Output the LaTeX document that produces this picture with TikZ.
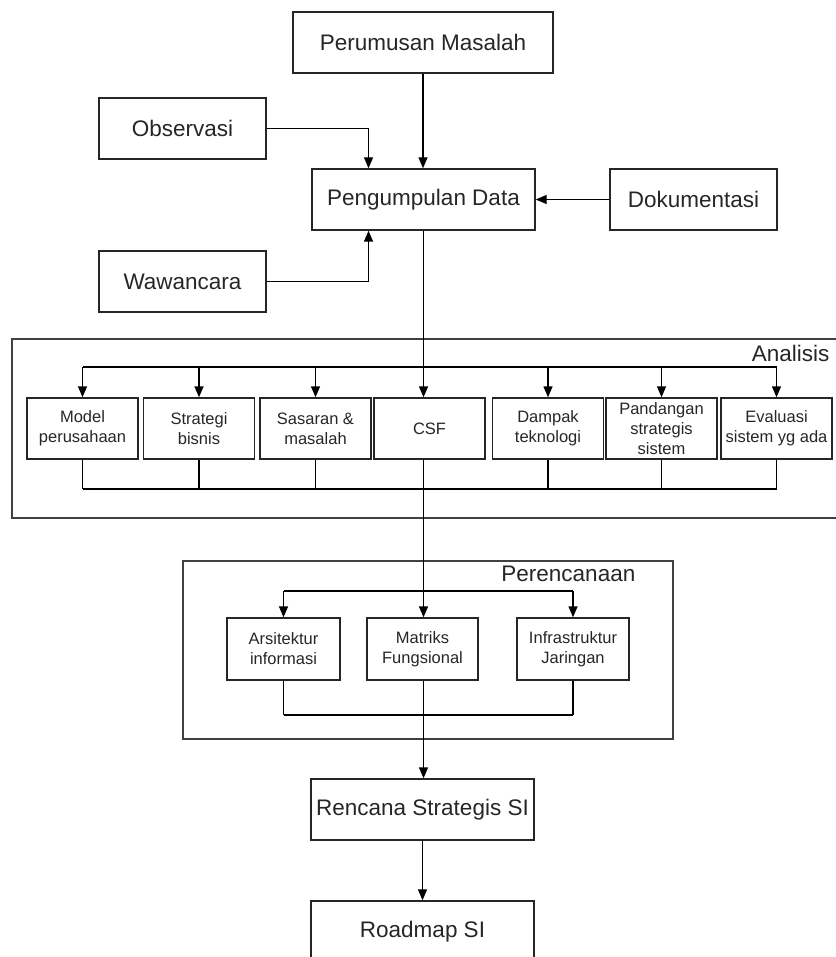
\documentclass[tikz,border=0pt]{standalone}
\usepackage{fontspec}
\setmainfont{Liberation Sans}
\usetikzlibrary{arrows.meta}
\begin{document}
\begin{tikzpicture}[x=1pt,y=-1pt,line width=1.4pt,
  >={Triangle[length=11pt,width=9pt]},
  bigbox/.style={draw=black!85,inner sep=0pt,minimum height=61pt,text=black!85,font=\fontsize{22.5}{27}\selectfont},
  smallbox/.style={draw=black!85,inner sep=0pt,minimum width=111pt,minimum height=61pt,align=center,text=black!85,font=\fontsize{16.5}{20}\selectfont},
  frame/.style={draw=black!75,line width=1.6pt,inner sep=0pt},
  framelabel/.style={inner sep=0pt,anchor=base east,text=black!85,font=\fontsize{22.5}{27}\selectfont}]
\useasboundingbox (0,0) rectangle (835,957);
% input
\node [bigbox,minimum width=260pt] (perumusan) at (423,42.5) {Perumusan Masalah};
\node [bigbox,minimum width=167pt] (observasi) at (182.5,128.5) {Observasi};
\node [bigbox,minimum width=223pt] (pengumpulan) at (423.5,199.5) {Pengumpulan Data};
\node [bigbox,minimum width=167pt] (dokumentasi) at (693.5,199.5) {Dokumentasi};
\node [bigbox,minimum width=167pt] (wawancara) at (182.5,281.5) {Wawancara};
\draw[->] (perumusan.south) -- (perumusan.south |- pengumpulan.north);
\draw[->] (observasi.east) -| ([xshift=-55pt]pengumpulan.north);
\draw[->] (wawancara.east) -| ([xshift=-55pt]pengumpulan.south);
\draw[->] (dokumentasi.west) -- (pengumpulan.east);
% analisis
\node [frame,minimum width=850pt,minimum height=179pt] (analisis) at (437,428.5) {};
\node [framelabel] (analisislbl) at (830,361) {Analisis};
\node [smallbox] (model) at (82.5,428.5) {Model\\perusahaan};
\node [smallbox] (strategi) at (199,428.5) {Strategi\\bisnis};
\node [smallbox] (sasaran) at (315.5,428.5) {Sasaran \&\\masalah};
\node [smallbox] (csf) at (429.5,428.5) {CSF};
\node [smallbox] (dampak) at (548,428.5) {Dampak\\teknologi};
\node [smallbox] (pandangan) at (661.5,428.5) {Pandangan\\strategis\\sistem};
\node [smallbox] (evaluasi) at (776.5,428.5) {Evaluasi\\sistem yg ada};
\coordinate (atop) at (0,367);
\coordinate (abot) at (0,489);
\draw (model.north |- atop) -- (evaluasi.north |- atop);
\draw (model.south |- abot) -- (evaluasi.south |- abot);
\foreach \b in {model,strategi,sasaran,dampak,pandangan,evaluasi} {
  \draw[->] (\b.north |- atop) -- (\b.north);
  \draw (\b.south) -- (\b.south |- abot);
}
\draw[->] (pengumpulan.south) -- (pengumpulan.south |- csf.north);
% perencanaan
\node [frame,minimum width=490pt,minimum height=178pt] (perencanaan) at (428,650) {};
\node [framelabel] (perencanaanlbl) at (636,581) {Perencanaan};
\node [smallbox,minimum width=113pt,minimum height=62pt] (arsitektur) at (283.5,649) {Arsitektur\\informasi};
\node [smallbox,minimum height=62pt] (matriks) at (422.5,649) {Matriks\\Fungsional};
\node [smallbox,minimum width=112pt,minimum height=62pt] (infrastruktur) at (573,649) {Infrastruktur\\Jaringan};
\coordinate (ptop) at (0,591);
\coordinate (pbot) at (0,715);
\draw (arsitektur.north |- ptop) -- (infrastruktur.north |- ptop);
\draw (arsitektur.south |- pbot) -- (infrastruktur.south |- pbot);
\foreach \b in {arsitektur,infrastruktur} {
  \draw[->] (\b.north |- ptop) -- (\b.north);
  \draw (\b.south) -- (\b.south |- pbot);
}
\draw[->] (pengumpulan.south |- csf.south) -- (pengumpulan.south |- matriks.north);
% hasil
\node [bigbox,minimum width=223pt] (rencana) at (422.5,809.5) {Rencana Strategis SI};
\node [bigbox,minimum width=223pt] (roadmap) at (422.5,931.5) {Roadmap SI};
\draw[->] (pengumpulan.south |- matriks.south) -- (pengumpulan.south |- rencana.north);
\draw[->] (rencana.south) -- (roadmap.north);
\end{tikzpicture}
\end{document}
